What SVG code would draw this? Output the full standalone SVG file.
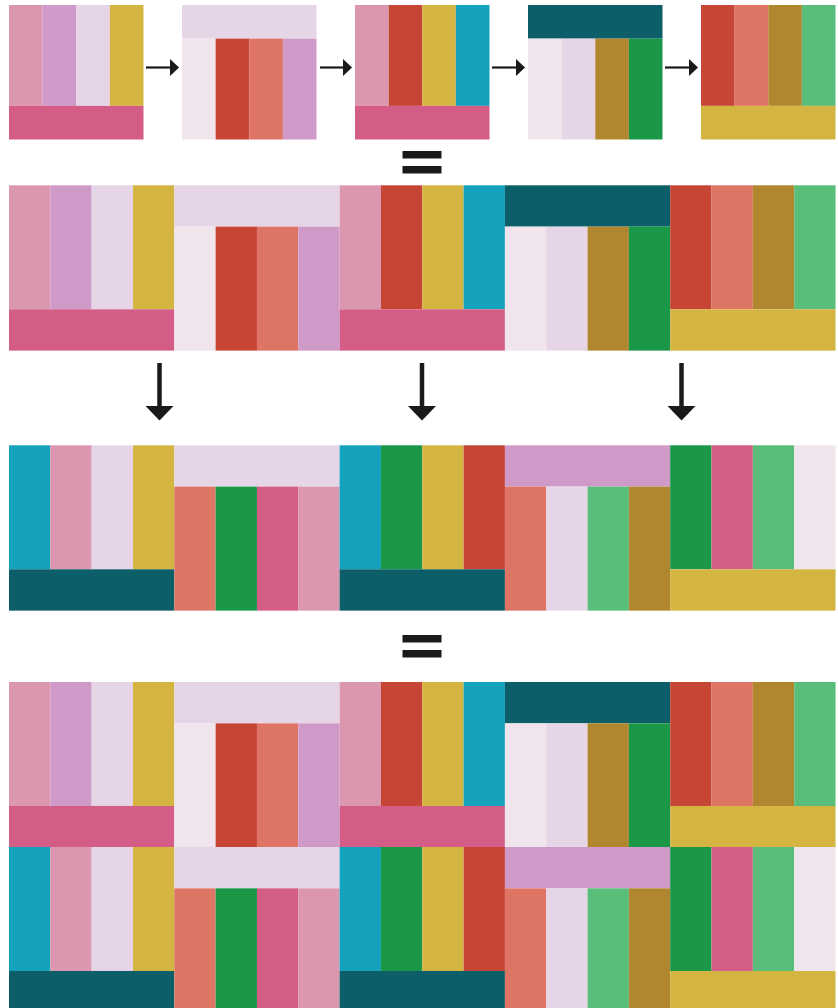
<svg xmlns="http://www.w3.org/2000/svg" xmlns:xlink="http://www.w3.org/1999/xlink" width="838" height="1008" viewBox="0 0 838 1008">
<style>
.rose{fill:#DC97B0}.orchid{fill:#CF9AC7}.lav{fill:#E6D4E7}.mus{fill:#D4B542}.hp{fill:#D45D88}
.vl{fill:#F0E5EC}.red{fill:#C64535}.sal{fill:#DE7464}.teal{fill:#15A2BD}.dt{fill:#0C5E68}
.br{fill:#B0872E}.gr{fill:#1A9848}.lg{fill:#58BE7A}
.conn{stroke:#1a1a1a;fill:none}
.eq{fill:#1a1a1a}
</style>
<defs>
<marker id="ah" markerUnits="userSpaceOnUse" markerWidth="10" markerHeight="18" refX="0.5" refY="8.5" orient="auto"><path d="M0,0 L9,8.5 L0,17 z" fill="#1a1a1a"/></marker>
<marker id="av" markerUnits="userSpaceOnUse" markerWidth="16" markerHeight="30" refX="0.5" refY="14.5" orient="auto"><path d="M0,0 L15,14.5 L0,29 z" fill="#1a1a1a"/></marker>
<g id="a1"><rect class="rose" x="0" y="0" width="1" height="3"/><rect class="orchid" x="1" y="0" width="1" height="3"/><rect class="lav" x="2" y="0" width="1" height="3"/><rect class="mus" x="3" y="0" width="1" height="3"/><rect class="hp" x="0" y="3" width="4" height="1"/></g>
<g id="a2"><rect class="lav" x="0" y="0" width="4" height="1"/><rect class="vl" x="0" y="1" width="1" height="3"/><rect class="red" x="1" y="1" width="1" height="3"/><rect class="sal" x="2" y="1" width="1" height="3"/><rect class="orchid" x="3" y="1" width="1" height="3"/></g>
<g id="a3"><rect class="rose" x="0" y="0" width="1" height="3"/><rect class="red" x="1" y="0" width="1" height="3"/><rect class="mus" x="2" y="0" width="1" height="3"/><rect class="teal" x="3" y="0" width="1" height="3"/><rect class="hp" x="0" y="3" width="4" height="1"/></g>
<g id="a4"><rect class="dt" x="0" y="0" width="4" height="1"/><rect class="vl" x="0" y="1" width="1" height="3"/><rect class="lav" x="1" y="1" width="1" height="3"/><rect class="br" x="2" y="1" width="1" height="3"/><rect class="gr" x="3" y="1" width="1" height="3"/></g>
<g id="a5"><rect class="red" x="0" y="0" width="1" height="3"/><rect class="sal" x="1" y="0" width="1" height="3"/><rect class="br" x="2" y="0" width="1" height="3"/><rect class="lg" x="3" y="0" width="1" height="3"/><rect class="mus" x="0" y="3" width="4" height="1"/></g>
<g id="b1"><rect class="teal" x="0" y="0" width="1" height="3"/><rect class="rose" x="1" y="0" width="1" height="3"/><rect class="lav" x="2" y="0" width="1" height="3"/><rect class="mus" x="3" y="0" width="1" height="3"/><rect class="dt" x="0" y="3" width="4" height="1"/></g>
<g id="b2"><rect class="lav" x="0" y="0" width="4" height="1"/><rect class="sal" x="0" y="1" width="1" height="3"/><rect class="gr" x="1" y="1" width="1" height="3"/><rect class="hp" x="2" y="1" width="1" height="3"/><rect class="rose" x="3" y="1" width="1" height="3"/></g>
<g id="b3"><rect class="teal" x="0" y="0" width="1" height="3"/><rect class="gr" x="1" y="0" width="1" height="3"/><rect class="mus" x="2" y="0" width="1" height="3"/><rect class="red" x="3" y="0" width="1" height="3"/><rect class="dt" x="0" y="3" width="4" height="1"/></g>
<g id="b4"><rect class="orchid" x="0" y="0" width="4" height="1"/><rect class="sal" x="0" y="1" width="1" height="3"/><rect class="lav" x="1" y="1" width="1" height="3"/><rect class="lg" x="2" y="1" width="1" height="3"/><rect class="br" x="3" y="1" width="1" height="3"/></g>
<g id="b5"><rect class="gr" x="0" y="0" width="1" height="3"/><rect class="hp" x="1" y="0" width="1" height="3"/><rect class="lg" x="2" y="0" width="1" height="3"/><rect class="vl" x="3" y="0" width="1" height="3"/><rect class="mus" x="0" y="3" width="4" height="1"/></g>
</defs>
<rect x="0" y="0" width="838" height="1008" fill="#ffffff"/>

<g id="top-1"><use xlink:href="#a1" href="#a1" transform="translate(9,5) scale(33.625)"/></g>
<g id="top-2"><use xlink:href="#a2" href="#a2" transform="translate(182,5) scale(33.625)"/></g>
<g id="top-3"><use xlink:href="#a3" href="#a3" transform="translate(355,5) scale(33.625)"/></g>
<g id="top-4"><use xlink:href="#a4" href="#a4" transform="translate(528,5) scale(33.625)"/></g>
<g id="top-5"><use xlink:href="#a5" href="#a5" transform="translate(701,5) scale(33.625)"/></g>

<g id="row2-1"><use xlink:href="#a1" href="#a1" transform="translate(9,185.3) scale(41.33)"/></g>
<g id="row2-2"><use xlink:href="#a2" href="#a2" transform="translate(174.3,185.3) scale(41.33)"/></g>
<g id="row2-3"><use xlink:href="#a3" href="#a3" transform="translate(339.6,185.3) scale(41.33)"/></g>
<g id="row2-4"><use xlink:href="#a4" href="#a4" transform="translate(504.9,185.3) scale(41.33)"/></g>
<g id="row2-5"><use xlink:href="#a5" href="#a5" transform="translate(670.2,185.3) scale(41.33)"/></g>

<g id="row3-1"><use xlink:href="#b1" href="#b1" transform="translate(9,445.3) scale(41.33)"/></g>
<g id="row3-2"><use xlink:href="#b2" href="#b2" transform="translate(174.3,445.3) scale(41.33)"/></g>
<g id="row3-3"><use xlink:href="#b3" href="#b3" transform="translate(339.6,445.3) scale(41.33)"/></g>
<g id="row3-4"><use xlink:href="#b4" href="#b4" transform="translate(504.9,445.3) scale(41.33)"/></g>
<g id="row3-5"><use xlink:href="#b5" href="#b5" transform="translate(670.2,445.3) scale(41.33)"/></g>

<g id="row4-1"><use xlink:href="#a1" href="#a1" transform="translate(9,682) scale(41.33)"/></g>
<g id="row4-2"><use xlink:href="#a2" href="#a2" transform="translate(174.3,682) scale(41.33)"/></g>
<g id="row4-3"><use xlink:href="#a3" href="#a3" transform="translate(339.6,682) scale(41.33)"/></g>
<g id="row4-4"><use xlink:href="#a4" href="#a4" transform="translate(504.9,682) scale(41.33)"/></g>
<g id="row4-5"><use xlink:href="#a5" href="#a5" transform="translate(670.2,682) scale(41.33)"/></g>
<g id="row5-1"><use xlink:href="#b1" href="#b1" transform="translate(9,847) scale(41.33)"/></g>
<g id="row5-2"><use xlink:href="#b2" href="#b2" transform="translate(174.3,847) scale(41.33)"/></g>
<g id="row5-3"><use xlink:href="#b3" href="#b3" transform="translate(339.6,847) scale(41.33)"/></g>
<g id="row5-4"><use xlink:href="#b4" href="#b4" transform="translate(504.9,847) scale(41.33)"/></g>
<g id="row5-5"><use xlink:href="#b5" href="#b5" transform="translate(670.2,847) scale(41.33)"/></g>

<g id="connectors">
<line class="conn" x1="146" y1="67.5" x2="170.5" y2="67.5" stroke-width="2.2" marker-end="url(#ah)"/>
<line class="conn" x1="320" y1="67.5" x2="343.5" y2="67.5" stroke-width="2.2" marker-end="url(#ah)"/>
<line class="conn" x1="492" y1="67.5" x2="516.5" y2="67.5" stroke-width="2.2" marker-end="url(#ah)"/>
<line class="conn" x1="665" y1="67.5" x2="689.5" y2="67.5" stroke-width="2.2" marker-end="url(#ah)"/>
<line class="conn" x1="159.5" y1="363" x2="159.5" y2="406" stroke-width="4.5" marker-end="url(#av)"/>
<line class="conn" x1="422" y1="363" x2="422" y2="406" stroke-width="4.5" marker-end="url(#av)"/>
<line class="conn" x1="681.5" y1="363" x2="681.5" y2="406" stroke-width="4.5" marker-end="url(#av)"/>
</g>

<g id="equals-1"><rect class="eq" x="402.5" y="151" width="39" height="7.5"/><rect class="eq" x="402.5" y="166" width="39" height="7.5"/></g>
<g id="equals-2"><rect class="eq" x="402.5" y="635" width="39" height="7.5"/><rect class="eq" x="402.5" y="650" width="39" height="7.5"/></g>
</svg>
